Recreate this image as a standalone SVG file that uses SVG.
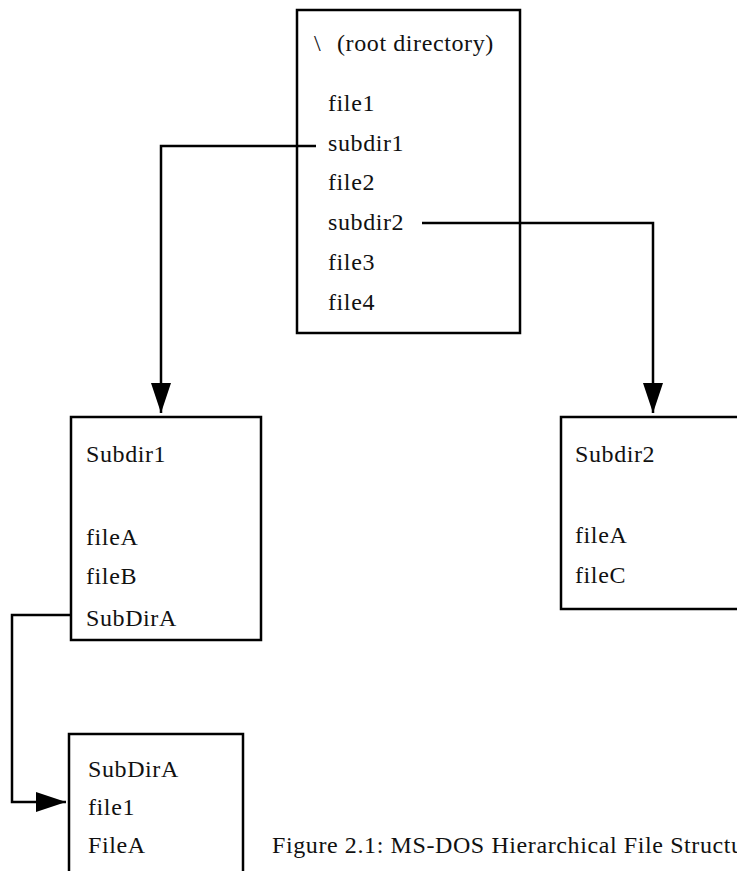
<svg xmlns="http://www.w3.org/2000/svg" width="737" height="871" viewBox="0 0 737 871">
<style>
.box{fill:none;stroke:#000;stroke-width:2.5}
.t{font-family:"Liberation Serif","Times New Roman",serif;font-size:24px;letter-spacing:0.6px;fill:#111}
.c{fill:none;stroke:#000;stroke-width:2.5}
</style>
<defs>
<marker id="ah" viewBox="0 0 30 20" refX="30" refY="10" markerWidth="30" markerHeight="20" markerUnits="userSpaceOnUse" orient="auto">
<path d="M0,0 L30,10 L0,20 Z" fill="#000"/>
</marker>
</defs>
<g id="root">
<rect class="box" x="297" y="10" width="223" height="323"/>
<text class="t" x="314" y="51">\<tspan x="337">(root directory)</tspan></text>
<text class="t" x="328" y="111">file1</text>
<text class="t" x="328" y="151">subdir1</text>
<text class="t" x="328" y="190">file2</text>
<text class="t" x="328" y="230">subdir2</text>
<text class="t" x="328" y="270">file3</text>
<text class="t" x="328" y="310">file4</text>
</g>
<g id="subdir1">
<rect class="box" x="71" y="417" width="190" height="223"/>
<text class="t" x="86" y="462">Subdir1</text>
<text class="t" x="86" y="545">fileA</text>
<text class="t" x="86" y="584">fileB</text>
<text class="t" x="86" y="626">SubDirA</text>
</g>
<g id="subdir2">
<rect class="box" x="561" y="417" width="200" height="192"/>
<text class="t" x="575" y="462">Subdir2</text>
<text class="t" x="575" y="543">fileA</text>
<text class="t" x="575" y="583">fileC</text>
</g>
<g id="subdira">
<rect class="box" x="69" y="734" width="174" height="160"/>
<text class="t" x="88" y="777">SubDirA</text>
<text class="t" x="88" y="815">file1</text>
<text class="t" x="88" y="853">FileA</text>
</g>
<g id="caption">
<text class="t" x="272" y="853">Figure 2.1: MS-DOS Hierarchical File Structure</text>
</g>
<g id="connectors">
<path class="c" d="M316,146 H161 V413" marker-end="url(#ah)"/>
<path class="c" d="M422,223 H653 V413" marker-end="url(#ah)"/>
<path class="c" d="M72,615 H12 V802 H66" marker-end="url(#ah)"/>
</g>
</svg>
